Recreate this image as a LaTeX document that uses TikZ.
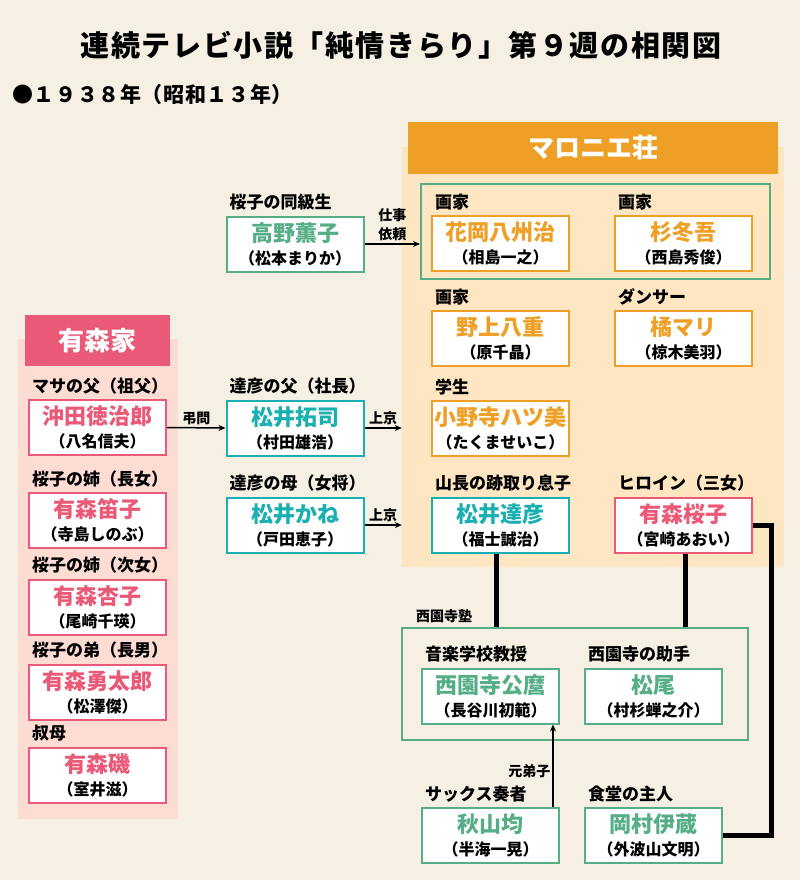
\documentclass[tikz,border=0pt]{standalone}
\usepackage{fontspec}
\setmainfont{Noto Sans CJK JP}
\usetikzlibrary{arrows.meta, positioning}
\definecolor{soubg}{HTML}{F6EFE3}
\definecolor{marorange}{HTML}{EE9F26}
\definecolor{marpanel}{HTML}{FDE6C1}
\definecolor{arpink}{HTML}{EA5A78}
\definecolor{arpanel}{HTML}{FDDDD3}
\definecolor{matsuteal}{HTML}{1AAFB0}
\definecolor{jukugreen}{HTML}{55AE85}
\newcommand{\yomi}[1]{{\fontsize{16}{19}\selectfont\color{black}#1}}
\tikzset{
  person/.style={
    draw=#1,
    text=#1,
    fill=white,
    line width=2pt,
    minimum width=137pt,
    minimum height=55pt,
    inner sep=0pt,
    align=center,
    font=\fontsize{22}{23}\selectfont\bfseries
  },
  role/.style={
    anchor=base west,
    inner sep=0pt,
    font=\fontsize{17}{20}\selectfont\bfseries
  },
  panel/.style={
    fill=#1,
    inner sep=0pt
  },
  header/.style={
    fill=#1,
    text=white,
    inner sep=0pt,
    font=\fontsize{26}{30}\selectfont\bfseries
  },
  group/.style={
    draw=jukugreen,
    line width=2pt,
    inner sep=0pt
  },
  tie/.style={
    line width=5pt
  },
  rel/.style={
    -{Stealth[length=7pt,width=6pt]},
    line width=1.5pt
  },
  rellabel/.style={
    inner sep=1pt,
    font=\fontsize{14}{19}\selectfont\bfseries,
    align=center
  }
}

\begin{document}
\begin{tikzpicture}[x=1pt, y=-1pt]
  \fill[soubg] (0,0) rectangle (800,880);
  \useasboundingbox (0,0) rectangle (800,880);

  % title
  \node[font=\fontsize{29}{33}\selectfont\bfseries\addfontfeatures{LetterSpace=5.4}] (title) at (401,45) {連続テレビ小説「純情きらり」第９週の相関図};
  \node[anchor=west, inner sep=0pt, font=\fontsize{21}{24}\selectfont\bfseries\addfontfeatures{LetterSpace=3}] (year) at (12,95) {●１９３８年（昭和１３年）};

  % panels
  \node[panel=marpanel, minimum width=382pt, minimum height=420pt] (marpanel) at (593,357) {};
  \node[header=marorange, minimum width=370pt, minimum height=52pt] (marhead) at (593,148) {マロニエ荘};
  \node[panel=arpanel, minimum width=160pt, minimum height=480pt] (arpanel) at (98,579) {};
  \node[header=arpink, minimum width=145pt, minimum height=51pt] (arhead) at (97.5,340.5) {有森家};
  \node[group, minimum width=349pt, minimum height=95pt] (gaka) at (595.5,231.5) {};
  \node[group, minimum width=346pt, minimum height=112pt] (juku) at (575,684) {};
  \node[anchor=base west, inner sep=0pt, font=\fontsize{14}{16}\selectfont\bfseries] (jukuname) at ([shift={(15pt,6pt)}]juku.north west) {西園寺塾};

  % Arimori family
  \node[person=arpink] (okita) at (97.5,427.5) {沖田徳治郎\\\yomi{（八名信夫）}};
  \node[person=arpink] (fueko) at (97.5,520.5) {有森笛子\\\yomi{（寺島しのぶ）}};
  \node[person=arpink] (kyoko) at (97.5,607) {有森杏子\\\yomi{（尾崎千瑛）}};
  \node[person=arpink] (yutaro) at (97.5,692) {有森勇太郎\\\yomi{（松澤傑）}};
  \node[person=arpink] (iso) at (97.5,775) {有森磯\\\yomi{（室井滋）}};
  \node[role] (okita-r) at ([shift={(4pt,7pt)}]okita.north west) {マサの父（祖父）};
  \node[role] (fueko-r) at ([shift={(4pt,7pt)}]fueko.north west) {桜子の姉（長女）};
  \node[role] (kyoko-r) at ([shift={(4pt,7pt)}]kyoko.north west) {桜子の姉（次女）};
  \node[role] (yutaro-r) at ([shift={(4pt,7pt)}]yutaro.north west) {桜子の弟（長男）};
  \node[role] (iso-r) at ([shift={(4pt,7pt)}]iso.north west) {叔母};

  % middle column
  \node[person=jukugreen] (takano) at (295,244) {高野薫子\\\yomi{（松本まりか）}};
  \node[person=matsuteal] (takuji) at (295,428) {松井拓司\\\yomi{（村田雄浩）}};
  \node[person=matsuteal] (kane) at (295,525) {松井かね\\\yomi{（戸田恵子）}};
  \node[role] (takano-r) at ([shift={(4pt,7pt)}]takano.north west) {桜子の同級生};
  \node[role] (takuji-r) at ([shift={(4pt,7pt)}]takuji.north west) {達彦の父（社長）};
  \node[role] (kane-r) at ([shift={(4pt,7pt)}]kane.north west) {達彦の母（女将）};

  % Maronie-so
  \node[person=marorange] (hanaoka) at (500.5,243.5) {花岡八州治\\\yomi{（相島一之）}};
  \node[person=marorange] (sugi) at (683.5,243.5) {杉冬吾\\\yomi{（西島秀俊）}};
  \node[person=marorange] (noge) at (500.5,338.5) {野上八重\\\yomi{（原千晶）}};
  \node[person=marorange] (tachibana) at (683.5,338.5) {橘マリ\\\yomi{（椋木美羽）}};
  \node[person=marorange] (onodera) at (500.5,428.5) {小野寺ハツ美\\\yomi{（たくませいこ）}};
  \node[person=matsuteal] (tatsuhiko) at (500.5,525) {松井達彦\\\yomi{（福士誠治）}};
  \node[person=arpink] (sakurako) at (683.5,525) {有森桜子\\\yomi{（宮崎あおい）}};
  \node[role] (hanaoka-r) at ([shift={(4pt,7pt)}]hanaoka.north west) {画家};
  \node[role] (sugi-r) at ([shift={(4pt,7pt)}]sugi.north west) {画家};
  \node[role] (noge-r) at ([shift={(4pt,7pt)}]noge.north west) {画家};
  \node[role] (tachibana-r) at ([shift={(4pt,7pt)}]tachibana.north west) {ダンサー};
  \node[role] (onodera-r) at ([shift={(4pt,7pt)}]onodera.north west) {学生};
  \node[role] (tatsuhiko-r) at ([shift={(4pt,7pt)}]tatsuhiko.north west) {山長の跡取り息子};
  \node[role] (sakurako-r) at ([shift={(4pt,7pt)}]sakurako.north west) {ヒロイン（三女）};

  % Saionji-juku and below
  \node[person=jukugreen] (saionji) at (490.5,696) {西園寺公麿\\\yomi{（長谷川初範）}};
  \node[person=jukugreen] (matsuo) at (653.5,696) {松尾\\\yomi{（村杉蝉之介）}};
  \node[person=jukugreen] (akiyama) at (490.5,835.5) {秋山均\\\yomi{（半海一晃）}};
  \node[person=jukugreen] (okamura) at (653.5,835.5) {岡村伊蔵\\\yomi{（外波山文明）}};
  \node[role] (saionji-r) at ([shift={(4pt,7pt)}]saionji.north west) {音楽学校教授};
  \node[role] (matsuo-r) at ([shift={(4pt,7pt)}]matsuo.north west) {西園寺の助手};
  \node[role] (akiyama-r) at ([shift={(4pt,7pt)}]akiyama.north west) {サックス奏者};
  \node[role] (okamura-r) at ([shift={(4pt,7pt)}]okamura.north west) {食堂の主人};

  % relations
  \draw[rel] (takano.east) -- (takano.east -| gaka.west)
    node[rellabel, midway, above=1pt] {仕事\\依頼};
  \draw[rel] (okita.east) -- (takuji.west)
    node[rellabel, midway, above=1pt] {弔問};
  \draw[rel] (takuji.east) -- (takuji.east -| marpanel.west)
    node[rellabel, midway, above=1pt] {上京};
  \draw[rel] (kane.east) -- (kane.east -| marpanel.west)
    node[rellabel, midway, above=1pt] {上京};
  \draw[rel] ([xshift=-7pt]akiyama.north east) -- ([xshift=-7pt]saionji.south east)
    node[rellabel, pos=0.44, left=1pt] {元弟子};
  \draw[tie] ([xshift=-4pt]tatsuhiko.south) -- ([xshift=-4pt]tatsuhiko.south |- juku.north);
  \draw[tie] ([xshift=2pt]sakurako.south) -- ([xshift=2pt]sakurako.south |- juku.north);
  \draw[tie] (sakurako.east) -- ++(18,0) |- (okamura.east);
\end{tikzpicture}
\end{document}
